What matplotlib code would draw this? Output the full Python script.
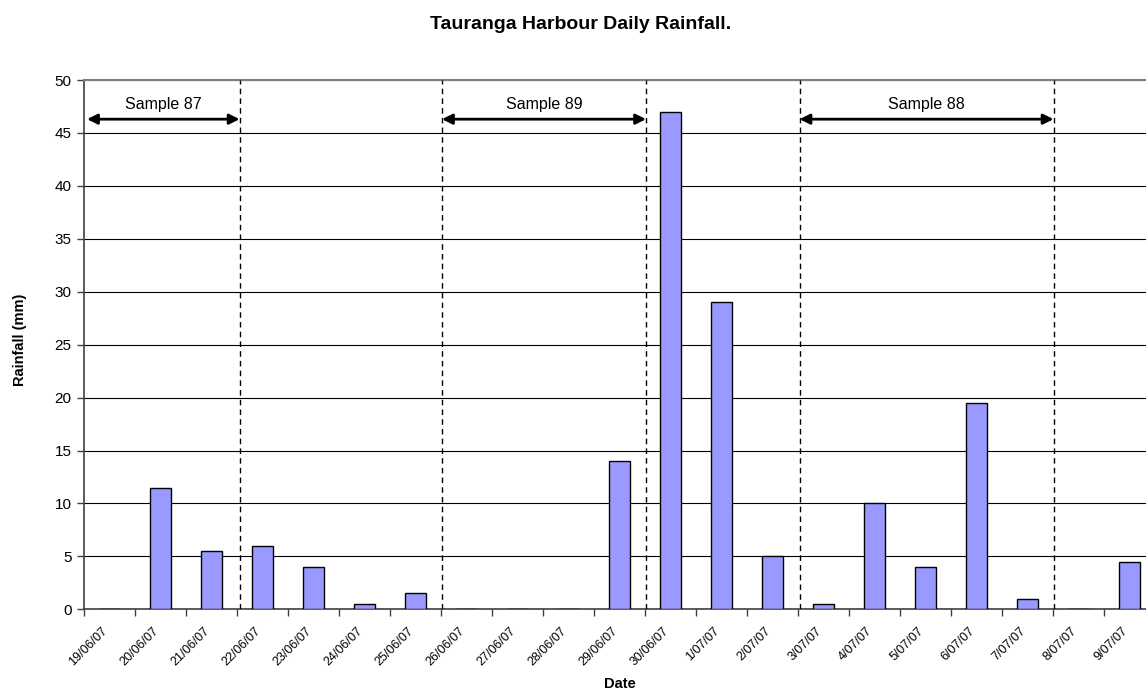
import matplotlib
matplotlib.use('Agg')
import matplotlib.pyplot as plt
import matplotlib.transforms as mtransforms
import numpy as np

plt.rcParams['font.family'] = ['Liberation Sans', 'DejaVu Sans']

# daily rainfall record
dates = ['19/06/07', '20/06/07', '21/06/07', '22/06/07', '23/06/07', '24/06/07',
         '25/06/07', '26/06/07', '27/06/07', '28/06/07', '29/06/07', '30/06/07',
         '1/07/07', '2/07/07', '3/07/07', '4/07/07', '5/07/07', '6/07/07',
         '7/07/07', '8/07/07', '9/07/07']
rainfall = [0, 11.5, 5.5, 6, 4, 0.5, 1.5, 0, 0, 0, 14, 47, 29, 5, 0.5, 10, 4,
            19.5, 1, 0, 4.5]

# sampling windows: (label, start boundary, end boundary)
samples = [('Sample 87', -0.44, 2.55),
           ('Sample 89', 6.52, 10.52),
           ('Sample 88', 13.53, 18.51)]
dividers = [2.55, 6.52, 10.52, 13.53, 18.51]

fig = plt.figure(figsize=(11.46, 6.9), dpi=100)
ax = fig.add_axes([84 / 1146, 80.7 / 690, 1071 / 1146, 529.3 / 690])

x = np.arange(len(dates))
ax.bar(x, rainfall, width=0.41, color='#9999FF', edgecolor='black',
       linewidth=1.0, zorder=3)

ax.set_xlim(-0.5, len(dates) - 0.5)
ax.set_ylim(0, 50)
ax.set_yticks(np.arange(0, 51, 5))
ax.yaxis.grid(True, color='black', linewidth=0.8, zorder=0)
ax.set_axisbelow(True)

# tick marks between categories, labels at category centres
ax.set_xticks(np.arange(-0.5, len(dates), 1.0))
ax.set_xticklabels([])
ax.set_xticks(x, minor=True)
ax.set_xticklabels(dates, minor=True, rotation=45, ha='right',
                   rotation_mode='anchor', fontsize=9)
ax.tick_params(axis='x', which='major', length=5, width=1, color='#404040')
ax.tick_params(axis='x', which='minor', length=0, pad=11)
ax.tick_params(axis='y', length=5, width=1, color='#404040', labelsize=11, pad=4)

shift = mtransforms.ScaledTranslation(-8 / 100, 0, fig.dpi_scale_trans)
for lbl in ax.get_xticklabels(minor=True):
    lbl.set_transform(lbl.get_transform() + shift)

for side in ['left', 'bottom']:
    ax.spines[side].set_color('#404040')
    ax.spines[side].set_linewidth(1.2)
ax.spines['top'].set_color('#808080')
ax.spines['top'].set_linewidth(1.5)
ax.spines['right'].set_visible(False)

for xd in dividers:
    ax.axvline(xd, color='black', linestyle=(0, (4, 3)), linewidth=1.0, zorder=4)

for label, x0, x1 in samples:
    ax.annotate('', xy=(x0, 46.3), xytext=(x1, 46.3),
                arrowprops=dict(arrowstyle='<|-|>,head_length=0.6,head_width=0.3',
                                color='black', lw=2, shrinkA=0, shrinkB=0),
                zorder=5)
    ax.text((x0 + x1) / 2, 47.7, label, ha='center', va='center', fontsize=11.5)

ax.set_ylabel('Rainfall (mm)', fontsize=10.5, fontweight='bold')
ax.yaxis.set_label_coords(-0.0532, 0.51)
ax.set_xlabel('Date', fontsize=10.5, fontweight='bold')
ax.xaxis.set_label_coords(0.5, -0.127)

fig.text(0.507, 0.965, 'Tauranga Harbour Daily Rainfall.', ha='center',
         va='center', fontsize=14, fontweight='bold')

fig.savefig('out.png', dpi=100)
